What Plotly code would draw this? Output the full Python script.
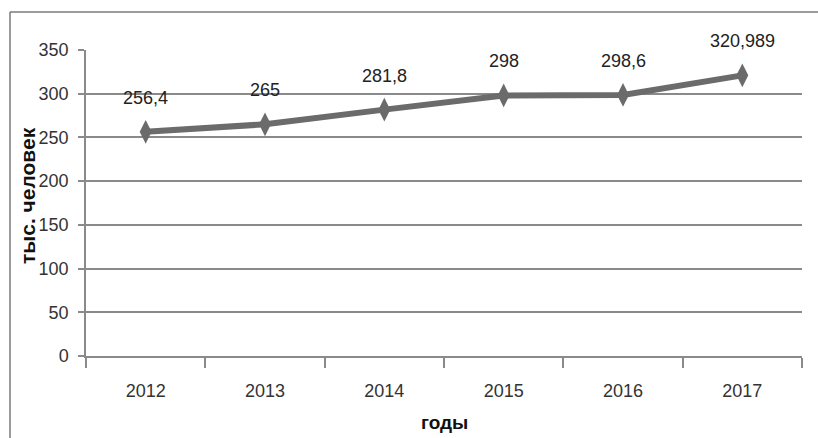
import plotly.graph_objects as go

# Численность, тыс. человек, по годам
years = ["2012", "2013", "2014", "2015", "2016", "2017"]
values = [256.4, 265, 281.8, 298, 298.6, 320.989]
y_ticks = [0, 50, 100, 150, 200, 250, 300, 350]

W, H = 818, 438
ML, MR, MT, MB = 86, 16, 50, 82
PW, PH = W - ML - MR, H - MT - MB

def px_x(px):
    return (px - ML) / PW

def px_y(py):
    return (H - MB - py) / PH

NARROW = "Liberation Sans Narrow, Arial Narrow, Liberation Sans, sans-serif"
BOLD = "Liberation Sans, Arial, sans-serif"
GRID = "#8a8a8a"
LINE = "#6b6b6b"

fig = go.Figure()
fig.add_trace(go.Scatter(
    x=years, y=values, mode="lines+markers",
    line=dict(color=LINE, width=6),
    marker=dict(symbol="diamond-tall", size=17, color=LINE),
    hoverinfo="skip", showlegend=False,
))

# подписи значений над точками (десятичная запятая); x — индекс категории
for i, v in enumerate(values):
    fig.add_annotation(
        x=i, y=v, text=f"{v:g}".replace(".", ","), showarrow=False,
        yshift=34, yanchor="middle", xanchor="center",
        font=dict(family=NARROW, size=18, color="#222222"),
    )

fig.add_annotation(
    xref="paper", yref="paper", x=0, y=px_y(196), xshift=-59,
    text="тыс. человек", textangle=-90, showarrow=False,
    xanchor="center", yanchor="middle",
    font=dict(family=BOLD, size=21, color="#111111", weight="bold"),
)
fig.add_annotation(
    xref="paper", yref="paper", x=0.5, y=0, yshift=-66,
    text="годы", showarrow=False, xanchor="center", yanchor="middle",
    font=dict(family=BOLD, size=19, color="#111111", weight="bold"),
)

# рамка диаграммы (верхняя и левая стороны)
frame = dict(color="#7a7a7a", width=1.5)
fig.add_shape(type="line", xref="paper", yref="paper",
              x0=px_x(10), x1=px_x(830), y0=px_y(12), y1=px_y(12), line=frame)
fig.add_shape(type="line", xref="paper", yref="paper",
              x0=px_x(10), x1=px_x(10), y0=px_y(12), y1=px_y(460), line=frame)

fig.update_layout(
    width=W, height=H,
    margin=dict(l=ML, r=MR, t=MT, b=MB),
    paper_bgcolor="white", plot_bgcolor="white",
    xaxis=dict(
        type="category", categoryorder="array", categoryarray=years,
        range=[-0.5, len(years) - 0.5], tickson="boundaries",
        showgrid=False, showline=True, linecolor=GRID, linewidth=1.5,
        ticks="outside", ticklen=10, tickcolor=GRID, tickwidth=1.5,
        tickangle=0, ticklabelstandoff=18,
        tickfont=dict(family=NARROW, size=18, color="#333333"),
        fixedrange=True,
    ),
    yaxis=dict(
        range=[0, 350], tickvals=y_ticks,
        showgrid=True, gridcolor=GRID, gridwidth=1.5,
        showline=True, linecolor=GRID, linewidth=1.5,
        ticks="outside", ticklen=6, tickcolor=GRID, tickwidth=1.5,
        ticklabelstandoff=6,
        tickfont=dict(family=NARROW, size=18, color="#333333"),
        zeroline=False, fixedrange=True,
    ),
)

fig.write_html("out.html")
